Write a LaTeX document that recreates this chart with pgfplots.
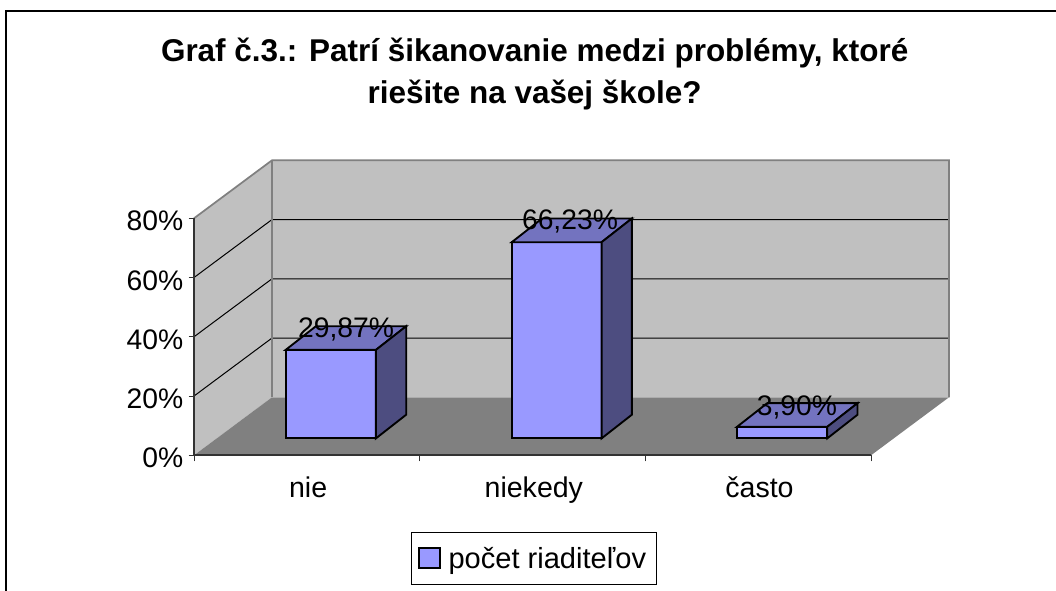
\documentclass[border=0pt]{standalone}
\usepackage{pgfplots}
\pgfplotsset{compat=1.18}
\usepackage{fontspec}
\setmainfont{Liberation Sans}
\definecolor{wall}{HTML}{C0C0C0}
\definecolor{floorc}{HTML}{808080}
\definecolor{barfront}{HTML}{9999FF}
\definecolor{bartop}{HTML}{7373BF}
\definecolor{barside}{HTML}{4D4D80}
\definecolor{axisc}{HTML}{323232}
\begin{document}
\begin{tikzpicture}[x=1pt,y=1pt]
\path[use as bounding box] (0,0) rectangle (792,443.25);
\draw[black,line width=1.3pt] (4.5,0) -- (4.5,435) -- (792,435);
\node[align=center,anchor=north,font=\fontsize{23.6}{31.5}\selectfont\bfseries] at (401,418)
  {Graf č.3.: Patrí šikanovanie medzi problémy, ktoré\\riešite na vašej škole?};
\begin{axis}[
  at={(145.5pt,101.775pt)},anchor=origin,
  scale only axis,width=566.25pt,height=221.25pt,
  xmin=0,xmax=3.3456,ymin=0,ymax=99.58,
  clip=false,
  axis line style={draw=none},
  tick align=outside,
  xtick pos=bottom,ytick pos=left,
  xtick={0,1,2,3},xticklabels={nie,niekedy,často},
  x tick label as interval=true,
  ytick={0,20,40,60,80},yticklabels={0\%,20\%,40\%,60\%,80\%},
  major tick length=4pt,
  xtick style={draw=axisc,line width=0.75pt,/pgfplots/major tick length=4.5pt},
  ytick style={draw=axisc,line width=0.75pt},
  tick label style={font=\fontsize{21.2}{25}\selectfont},
  xticklabel style={yshift=-8.3pt,xshift=1pt,font=\fontsize{21.4}{25}\selectfont},
  yticklabel style={xshift=-0.5pt,yshift=-2.2pt},
  legend style={at={(axis cs:0.963,-43.88)},anchor=south west,draw=black,line width=0.75pt,
    font=\fontsize{21.8}{25}\selectfont,inner xsep=5pt,inner ysep=9pt,
    legend cell align=left,
    /tikz/every even column/.append style={column sep=0pt},
    /tikz/every odd column/.append style={column sep=3.75pt}},
]
% walls and floor
\addplot[fill=wall,draw=none,forget plot] coordinates {(0,0)(0,80)(0.3456,99.58)(0.3456,19.58)} --cycle;
\addplot[fill=wall,draw=none,forget plot] coordinates {(0.3456,19.58)(3.3456,19.58)(3.3456,99.58)(0.3456,99.58)} --cycle;
\addplot[fill=floorc,draw=none,forget plot] coordinates {(0,0)(3,0)(3.3456,19.58)(0.3456,19.58)} --cycle;
% grid lines
\addplot[black,line width=0.75pt,forget plot] coordinates {(0,20)(0.3456,39.58)(3.3456,39.58)};
\addplot[black,line width=0.75pt,forget plot] coordinates {(0,40)(0.3456,59.58)(3.3456,59.58)};
\addplot[black,line width=0.75pt,forget plot] coordinates {(0,60)(0.3456,79.58)(3.3456,79.58)};
% wall borders
\addplot[floorc,line width=1.3pt,forget plot] coordinates {(0,80)(0.3456,99.58)(3.3456,99.58)(3.3456,19.58)};
\addplot[floorc,line width=1.3pt,forget plot] coordinates {(0.3456,99.58)(0.3456,19.58)};
\addplot[axisc,line width=0.9pt,forget plot] coordinates {(0,80)(0,0)};
\addplot[axisc,line width=1.4pt,forget plot] coordinates {(0,0)(3,0)};
% bar 1: 29.87
\addplot[fill=barfront,draw=black,line width=1.4pt,forget plot] coordinates {(0.406,5.7)(0.806,5.7)(0.806,35.57)(0.406,35.57)} --cycle;
\addplot[fill=bartop,draw=black,line width=1.4pt,forget plot] coordinates {(0.406,35.57)(0.806,35.57)(0.9403,43.57)(0.5403,43.57)} --cycle;
\addplot[fill=barside,draw=black,line width=1.4pt,forget plot] coordinates {(0.806,5.7)(0.9403,13.7)(0.9403,43.57)(0.806,35.57)} --cycle;
% bar 2: 66.23
\addplot[fill=barfront,draw=black,line width=1.4pt,forget plot] coordinates {(1.408,5.7)(1.806,5.7)(1.806,71.93)(1.408,71.93)} --cycle;
\addplot[fill=bartop,draw=black,line width=1.4pt,forget plot] coordinates {(1.408,71.93)(1.806,71.93)(1.9403,79.93)(1.5423,79.93)} --cycle;
\addplot[fill=barside,draw=black,line width=1.4pt,forget plot] coordinates {(1.806,5.7)(1.9403,13.7)(1.9403,79.93)(1.806,71.93)} --cycle;
% bar 3: 3.90
\addplot[fill=barfront,draw=black,line width=1.4pt,forget plot] coordinates {(2.406,5.7)(2.806,5.7)(2.806,9.6)(2.406,9.6)} --cycle;
\addplot[fill=bartop,draw=black,line width=1.4pt,forget plot] coordinates {(2.406,9.6)(2.806,9.6)(2.9403,17.6)(2.5403,17.6)} --cycle;
\addplot[fill=barside,draw=black,line width=1.4pt,forget plot] coordinates {(2.806,5.7)(2.9403,13.7)(2.9403,17.6)(2.806,9.6)} --cycle;
% data labels
\node[anchor=base,inner sep=0pt,font=\fontsize{21.2}{25}\selectfont] at (axis cs:0.674,39.93) {29,87\%};
\node[anchor=base,inner sep=0pt,font=\fontsize{21.2}{25}\selectfont] at (axis cs:1.666,76.05) {66,23\%};
\node[anchor=base,inner sep=0pt,font=\fontsize{21.2}{25}\selectfont] at (axis cs:2.672,13.6) {3,90\%};
\addlegendimage{legend image code/.code={\draw[fill=barfront,draw=black,line width=1.3pt] (0pt,-7pt) rectangle (15.5pt,8pt);}}
\addlegendentry{počet riaditeľov\hspace*{0.5pt}}
\end{axis}
\end{tikzpicture}
\end{document}
